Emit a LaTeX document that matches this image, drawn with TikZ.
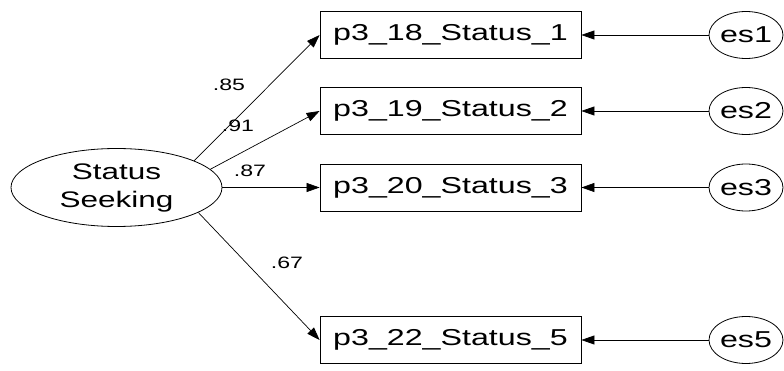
\documentclass[tikz,border=0pt]{standalone}
\usepackage{fontspec}
\setmainfont[FakeStretch=1.4]{Liberation Sans}
\usetikzlibrary{shapes.geometric,arrows.meta}
\begin{document}
\begin{tikzpicture}[x=1pt,y=-1pt,
  obs/.style={draw,line width=0.8pt,minimum width=261pt,minimum height=47pt,inner sep=0pt,font=\fontsize{23}{27}\selectfont},
  lat/.style={draw,ellipse,line width=0.8pt,inner sep=0pt,font=\fontsize{22.5}{28}\selectfont,align=center},
  err/.style={draw,ellipse,line width=0.8pt,minimum width=74pt,minimum height=47pt,inner sep=0pt,font=\fontsize{23}{27}\selectfont},
  path/.style={line width=0.7pt,-{Triangle[length=13pt,width=9pt]}},
  lbl/.style={font=\fontsize{16.5}{18}\selectfont,inner sep=0pt}]
\useasboundingbox (0,0) rectangle (784,371);
\node[lat,minimum width=211pt,minimum height=78pt] (ss) at (116.5,187.5) {Status\\Seeking};
\node[obs] (b1) at (450.5,35) {p3\_18\_Status\_1};
\node[obs] (b2) at (450.5,111) {p3\_19\_Status\_2};
\node[obs] (b3) at (450.5,187.5) {p3\_20\_Status\_3};
\node[obs] (b4) at (450.5,340) {p3\_22\_Status\_5};
\node[err] (e1) at (746,35) {es1};
\node[err] (e2) at (746,111) {es2};
\node[err] (e3) at (746,187.5) {es3};
\node[err] (e4) at (746,340) {es5};
\draw[path] (ss.19) -- (b1.west);
\draw[path] (ss.11) -- (b2.west);
\draw[path] (ss.east) -- (b3.west);
\draw[path] (ss.-17) -- (b4.west);
\draw[path] (e1.west) -- (b1.east);
\draw[path] (e2.west) -- (b2.east);
\draw[path] (e3.west) -- (b3.east);
\draw[path] (e4.west) -- (b4.east);
\node[lbl] (l1) at (229,85) {.85};
\node[lbl] (l2) at (238,126) {.91};
\node[lbl] (l3) at (250,171) {.87};
\node[lbl] (l4) at (287,263) {.67};
\end{tikzpicture}
\end{document}
